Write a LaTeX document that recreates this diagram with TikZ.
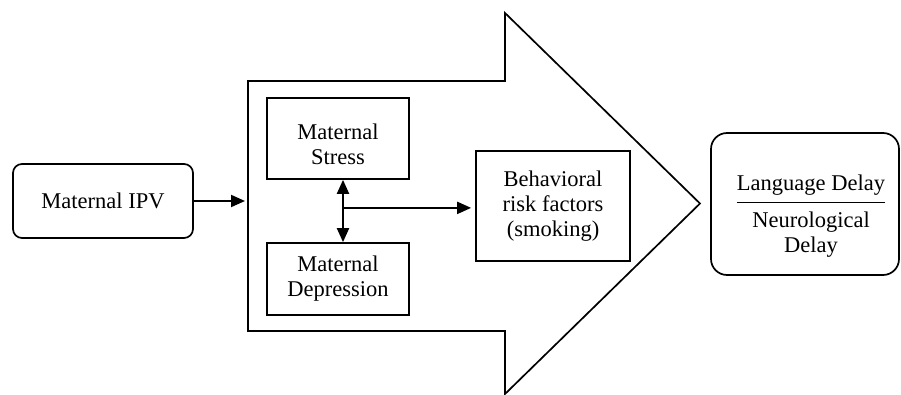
\documentclass[tikz,border=0pt]{standalone}
\usepackage{fontspec}
\setmainfont{Liberation Serif}
\usetikzlibrary{arrows.meta,positioning,calc}

\begin{document}
\begin{tikzpicture}[
  x=1pt, y=-1pt,
  font=\fontsize{22.5}{25}\selectfont,
  box/.style={draw, line width=1.7pt, align=center, inner sep=2pt},
  roundbox/.style={box, rounded corners=9pt},
  label/.style={align=center, inner sep=0pt},
  arrow/.style={-{Triangle[length=14pt,width=12pt]}, line width=2pt}
]
\useasboundingbox (0,0) rectangle (901,395);
% big arrow
\coordinate (bodyNW) at (248,81);
\coordinate (bodySW) at (248,331);
\draw[line width=1.7pt, line join=miter] (bodyNW) -- (505,81) -- (505,13) -- (700,203.5) -- (505,394) -- (505,331) -- (bodySW) -- cycle;
\node[roundbox, minimum width=180pt, minimum height=74pt] (ipv) at (103,201) {Maternal IPV};
\node[box, minimum width=142pt, minimum height=81pt, text height=53pt] (stress) at (338,138.5) {Maternal\\Stress};
\node[box, minimum width=142pt, minimum height=72pt] (depr) at (338,279) {Maternal\\Depression};
\node[box, minimum width=154pt, minimum height=110pt] (behav) at (553,206) {Behavioral\\risk factors\\(smoking)};
\node[roundbox, rounded corners=16pt, minimum width=188pt, minimum height=142pt] (outcome) at (805,204) {};
\node[label] (lang) at (811,185) {Language Delay};
\node[label] (neuro) at (811,235) {Neurological\\Delay};
\draw[line width=1.7pt] ([yshift=-7pt]lang.south west) -- ([yshift=-7pt]lang.south east);
\draw[arrow] (ipv.east) -- ([xshift=-3pt]bodyNW |- ipv.east);
\draw[arrow, {Triangle[length=14pt,width=12pt]}-{Triangle[length=14pt,width=12pt]}] ([xshift=5pt]stress.south) -- coordinate[pos=0.45] (junc) ([xshift=5pt]depr.north);
\draw[arrow] (junc) -- ([xshift=-4pt]junc -| behav.west);
\end{tikzpicture}
\end{document}
